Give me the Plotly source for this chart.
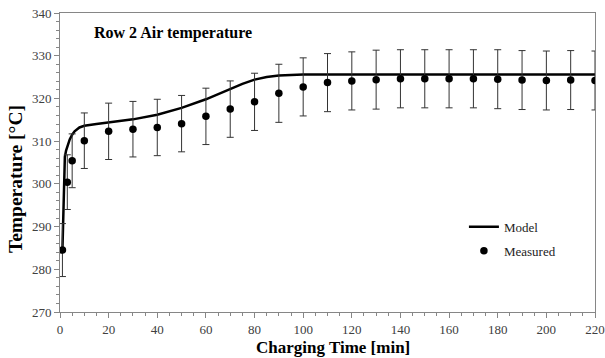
import plotly.graph_objects as go

# Measured data
meas_t = [1, 3, 5, 10, 20, 30, 40, 50, 60, 70, 80, 90, 100, 110, 120, 130, 140,
          150, 160, 170, 180, 190, 200, 210, 220]
meas_T = [284.5, 300.4, 305.4, 310.1, 312.3, 312.8, 313.2, 314.1, 315.8, 317.5,
          319.2, 321.2, 322.7, 323.7, 324.1, 324.4, 324.6, 324.6, 324.6, 324.6,
          324.5, 324.3, 324.2, 324.3, 324.2]
meas_err = [6.2, 6.4, 6.3, 6.5, 6.6, 6.5, 6.6, 6.6, 6.6, 6.6, 6.7, 6.8, 6.8, 6.8,
            6.8, 6.9, 6.8, 6.8, 6.8, 6.8, 6.9, 6.9, 6.9, 6.9, 6.9]

# Model curve
model_t = [1, 1.5, 2, 2.5, 3, 4, 5, 6, 8, 10, 15, 20, 30, 40, 50, 60, 70, 75, 80,
           85, 90, 95, 100, 120, 140, 160, 180, 200, 220]
model_T = [284.5, 295.5, 306.3, 307.8, 308.8, 310.4, 311.5, 312.3, 313.2, 313.6,
           314.0, 314.4, 315.1, 316.2, 317.8, 319.8, 322.2, 323.4, 324.4, 325.0,
           325.35, 325.5, 325.6, 325.6, 325.6, 325.6, 325.6, 325.6, 325.6]

SERIF = "Liberation Serif"

fig = go.Figure()
fig.add_trace(go.Scatter(
    x=model_t, y=model_T, mode="lines", name="Model",
    line=dict(color="black", width=2.5), legendgroup="a"))
fig.add_trace(go.Scatter(
    x=meas_t, y=meas_T, mode="markers", name="Measured",
    marker=dict(color="black", size=7.5),
    error_y=dict(type="data", array=meas_err, visible=True,
                 color="#333333", thickness=1, width=3.5),
    legendgroup="b"))

axis_common = dict(
    showgrid=False, zeroline=False, showline=True, linecolor="#868686",
    linewidth=1, mirror=True, ticks="outside", ticklen=5, tickcolor="#868686",
    tickfont=dict(family=SERIF, size=13, color="#404040"),
)

fig.update_xaxes(
    range=[0, 220], dtick=20, tick0=0, automargin=False,
    minor=dict(dtick=5, ticks="outside", ticklen=3, tickcolor="#868686"),
    **axis_common)
fig.update_yaxes(
    range=[270, 340], dtick=10, tick0=270, automargin=False,
    minor=dict(dtick=2, ticks="outside", ticklen=3, tickcolor="#868686"),
    **axis_common)

# Chart title and axis titles
fig.add_annotation(
    text="<b>Row 2 Air temperature</b>", xref="paper", yref="paper",
    x=0.06, y=0.932, xanchor="left", yanchor="middle", showarrow=False,
    font=dict(family=SERIF, size=16, color="black"))
fig.add_annotation(
    text="<b>Charging Time [min]</b>", xref="paper", yref="paper",
    x=0.51, y=-0.118, xanchor="center", yanchor="middle", showarrow=False,
    font=dict(family=SERIF, size=17, color="black"))
fig.add_annotation(
    text="<b>Temperature [°C]</b>", xref="paper", yref="paper",
    x=-0.082, y=0.445, xanchor="center", yanchor="middle", showarrow=False,
    textangle=-90,
    font=dict(family=SERIF, size=19.5, color="black"))

fig.update_layout(
    width=605, height=358,
    margin=dict(l=60, r=10, t=13, b=46, autoexpand=False),
    paper_bgcolor="white", plot_bgcolor="white",
    showlegend=True,
    legend=dict(x=0.755, y=0.335, xanchor="left", yanchor="top",
                bgcolor="rgba(0,0,0,0)", tracegroupgap=4,
                font=dict(family=SERIF, size=13, color="#222222")),
)

fig.write_html("out.html")
